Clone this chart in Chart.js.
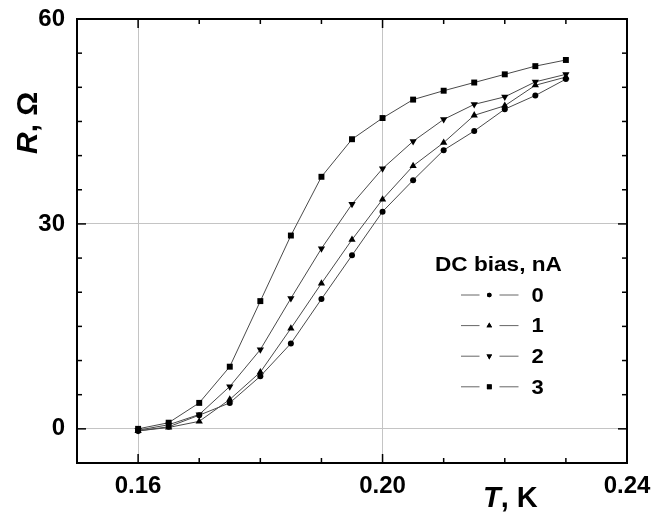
<!DOCTYPE html>
<html><head><meta charset="utf-8">
<script src="https://cdn.jsdelivr.net/npm/chart.js@4/dist/chart.umd.min.js"></script>
<style>html,body{margin:0;padding:0;background:#fff}canvas{display:block}</style>
</head><body>
<canvas id="c" width="653" height="531"></canvas>
<script>
// ---- data ----
const temperatureK = [0.160,0.165,0.170,0.175,0.180,0.185,0.190,0.195,0.200,0.205,0.210,0.215,0.220,0.225,0.230];
const biasLabels = ['0','1','2','3'];
const resistanceBias0 = [-0.3,0.3,2.0,3.8,7.7,12.5,19.0,25.4,31.8,36.4,40.8,43.6,46.8,48.8,51.2];
const resistanceBias1 = [-0.3,0.2,1.1,4.3,8.3,14.7,21.3,27.7,33.6,38.5,41.9,45.9,47.3,50.3,51.5];
const resistanceBias2 = [-0.2,0.6,2.1,6.2,11.6,19.1,26.4,32.9,38.1,42.1,45.3,47.5,48.6,50.8,51.9];
const resistanceBias3 = [0.0,0.9,3.8,9.1,18.7,28.3,36.9,42.4,45.5,48.2,49.5,50.7,51.9,53.1,54.0];
const xMajorTicks = [0.16,0.20,0.24];
const yMajorTicks = [0,30,60];
const xMinorStep = 0.01;
const yMinorStep = 5;
const legendTitle = 'DC bias, nA';

const series = [resistanceBias0,resistanceBias1,resistanceBias2,resistanceBias3];
const styles = [
  {pointStyle:'circle', radius:3, rotation:0, lr:2.3},
  {pointStyle:'triangle', radius:4.2, rotation:0, lr:3.2},
  {pointStyle:'triangle', radius:4.2, rotation:180, lr:3.2},
  {pointStyle:'rect', radius:4.2, rotation:0, lr:3.4}
];

const datasets = series.map((vals,i)=>({
  label: biasLabels[i],
  data: temperatureK.map((t,k)=>({x:t,y:vals[k]})),
  showLine: true,
  borderColor: '#4a4a4a',
  borderWidth: 1,
  pointStyle: styles[i].pointStyle,
  pointRadius: styles[i].radius,
  pointRotation: styles[i].rotation,
  pointBackgroundColor: '#000',
  pointBorderColor: '#000',
  pointBorderWidth: 0,
  tension: 0
}));

function isMajor(list, v){ return list.some(m=>Math.abs(m-v)<1e-9); }

const framePlugin = {
  id: 'frame',
  afterDatasetsDraw(chart){
    const {ctx, chartArea:a, scales:{x,y}} = chart;
    ctx.save();
    ctx.strokeStyle = '#000';
    ctx.lineWidth = 1.5;
    const seg = (x1,y1,x2,y2)=>{ctx.beginPath();ctx.moveTo(x1,y1);ctx.lineTo(x2,y2);ctx.stroke();};
    const nx = Math.round((x.max-x.min)/xMinorStep);
    for(let i=0;i<=nx;i++){
      const v = +(x.min + i*xMinorStep).toFixed(6);
      const px = x.getPixelForValue(v);
      const len = isMajor(xMajorTicks,v)?9:5;
      seg(px,a.bottom,px,a.bottom-len);
      seg(px,a.top,px,a.top+len);
    }
    const ny = Math.round((y.max-y.min)/yMinorStep);
    for(let i=0;i<=ny;i++){
      const v = +(y.min + i*yMinorStep).toFixed(6);
      const py = y.getPixelForValue(v);
      const len = isMajor(yMajorTicks,v)?9:5;
      seg(a.left,py,a.left+len,py);
      seg(a.right,py,a.right-len,py);
    }
    ctx.lineWidth = 2;
    ctx.strokeRect(a.left,a.top,a.right-a.left,a.bottom-a.top);
    ctx.restore();
  }
};

function drawMixed(ctx, parts, x, y){
  let cx = x;
  for(const p of parts){
    ctx.font = p.font;
    ctx.fillText(p.text, cx, y);
    cx += ctx.measureText(p.text).width;
  }
}

const textPlugin = {
  id: 'texts',
  afterDraw(chart){
    const ctx = chart.ctx;
    ctx.save();
    ctx.fillStyle = '#000';
    ctx.textBaseline = 'alphabetic';
    ctx.textAlign = 'left';
    // x axis title
    drawMixed(ctx, [
      {text:'T', font:'italic bold 29px "Liberation Sans"'},
      {text:', K', font:'bold 29px "Liberation Sans"'}
    ], 483, 507);
    // y axis title
    ctx.save();
    ctx.translate(37, 154);
    ctx.rotate(-Math.PI/2);
    drawMixed(ctx, [
      {text:'R', font:'italic bold 30px "Liberation Sans"'},
      {text:', Ω', font:'bold 30px "Liberation Sans"'}
    ], 0, 0);
    ctx.restore();
    // legend
    ctx.save();
    ctx.translate(435, 271);
    ctx.scale(1.13, 1);
    ctx.font = 'bold 20px "Liberation Sans"';
    ctx.fillText(legendTitle, 0, 0);
    ctx.restore();
    const rowY = [295, 325.6, 356.2, 386.8];
    biasLabels.forEach((lab,i)=>{
      const yc = rowY[i];
      ctx.strokeStyle = '#666';
      ctx.lineWidth = 1;
      ctx.beginPath(); ctx.moveTo(461,yc); ctx.lineTo(479.5,yc); ctx.stroke();
      ctx.beginPath(); ctx.moveTo(499.5,yc); ctx.lineTo(518.5,yc); ctx.stroke();
      Chart.helpers.drawPoint(ctx, {pointStyle:styles[i].pointStyle, radius:styles[i].lr, rotation:styles[i].rotation, borderWidth:0}, 489.3, yc);
      ctx.fill();
      ctx.save();
      ctx.translate(531.5, yc+6.8);
      ctx.scale(1.1,1);
      ctx.font = 'bold 20px "Liberation Sans"';
      ctx.fillStyle = '#000';
      ctx.fillText(lab, 0, 0);
      ctx.restore();
    });
    ctx.restore();
  }
};

new Chart(document.getElementById('c'), {
  type: 'scatter',
  data: { datasets },
  options: {
    responsive: false,
    animation: false,
    devicePixelRatio: 1,
    layout: { padding: { top: 19, right: 26, left: 0, bottom: 0 } },
    plugins: { legend: {display:false}, tooltip: {enabled:false} },
    scales: {
      x: {
        type: 'linear', min: 0.15, max: 0.24,
        afterBuildTicks: s => { s.ticks = xMajorTicks.map(v=>({value:v})); },
        afterFit: s => { s.height = 68; s.paddingLeft = 0; s.paddingRight = 0; },
        grid: {
          drawTicks: false,
          color: c => (c.tick && (Math.abs(c.tick.value-0.16)<1e-9 || Math.abs(c.tick.value-0.20)<1e-9)) ? '#c4c4c4' : 'rgba(0,0,0,0)',
          lineWidth: 1
        },
        border: { display: false },
        ticks: {
          color: '#000', padding: 9, maxRotation: 0,
          font: { family: 'Liberation Sans', weight: 'bold', size: 24 },
          callback: v => Number(v).toFixed(2)
        }
      },
      y: {
        type: 'linear', min: -5, max: 60,
        afterBuildTicks: s => { s.ticks = yMajorTicks.map(v=>({value:v})); },
        afterFit: s => { s.width = 77; s.paddingTop = 0; s.paddingBottom = 0; },
        grid: {
          drawTicks: false,
          color: c => (c.tick && (c.tick.value===0 || c.tick.value===30)) ? '#c4c4c4' : 'rgba(0,0,0,0)',
          lineWidth: 1
        },
        border: { display: false },
        ticks: {
          color: '#000', padding: 12,
          font: { family: 'Liberation Sans', weight: 'bold', size: 24 },
          callback: v => String(v)
        }
      }
    }
  },
  plugins: [framePlugin, textPlugin]
});
</script>
</body></html>
